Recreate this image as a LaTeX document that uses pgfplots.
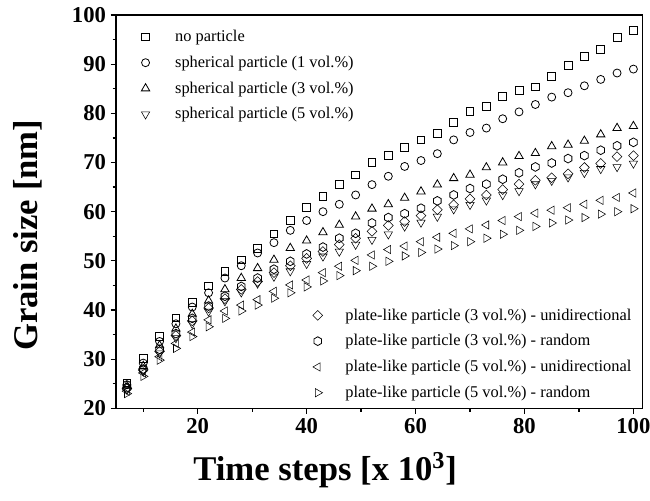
\documentclass[border=0pt]{standalone}
\usepackage{fontspec}
\setmainfont{Liberation Serif}
\usepackage{pgfplots}
\usepackage{pgfplotstable}
\pgfplotsset{compat=1.18}
\usetikzlibrary{plotmarks}

% open hexagon mark, not built in
\pgfdeclareplotmark{hexagon}{%
  \pgfpathmoveto{\pgfqpointpolar{90}{\pgfplotmarksize}}%
  \pgfpathlineto{\pgfqpointpolar{150}{\pgfplotmarksize}}%
  \pgfpathlineto{\pgfqpointpolar{210}{\pgfplotmarksize}}%
  \pgfpathlineto{\pgfqpointpolar{270}{\pgfplotmarksize}}%
  \pgfpathlineto{\pgfqpointpolar{330}{\pgfplotmarksize}}%
  \pgfpathlineto{\pgfqpointpolar{30}{\pgfplotmarksize}}%
  \pgfpathclose
  \pgfusepathqstroke}

\pgfplotstableread{
x   np   s1   s3   s5   p3u  p3r  p5u  p5r
7   25.2 24.8 24.6 23.8 24.0 24.2 23.5 23.0
10  30.2 29.2 28.6 27.5 27.8 28.0 27.2 26.5
13  34.6 33.6 32.8 31.2 31.6 32.0 30.5 29.8
16  38.4 37.2 36.2 34.3 34.8 35.2 33.2 32.2
19  41.6 40.6 39.2 37.2 37.8 38.3 35.5 34.6
22  44.9 43.5 41.9 39.7 40.4 40.8 38.0 36.6
25  47.8 46.5 44.2 41.8 42.3 42.8 39.8 38.3
28  50.2 49.0 46.5 43.6 44.2 44.8 41.0 39.8
31  52.5 51.6 48.5 45.4 45.8 46.5 42.1 41.0
34  55.5 53.7 50.2 46.8 47.6 48.3 43.8 42.4
37  58.2 56.2 52.6 47.9 49.0 49.9 45.1 43.5
40  60.9 58.2 54.1 49.4 50.5 51.4 46.1 44.7
43  63.1 60.0 55.8 50.9 51.9 52.8 47.6 45.9
46  65.5 61.5 57.3 51.9 53.3 54.6 48.9 47.0
49  67.5 63.4 59.0 53.3 54.6 55.6 50.1 48.0
52  70.0 65.5 60.6 54.3 56.0 57.7 51.2 48.9
55  71.5 67.2 61.5 55.4 57.2 58.8 52.3 49.9
58  73.0 69.2 62.8 57.0 58.0 59.6 53.0 51.0
61  74.6 70.4 64.1 57.8 59.2 60.7 53.9 51.7
64  75.9 71.8 65.5 59.0 60.4 62.2 54.8 52.4
67  78.2 74.6 66.8 60.5 61.4 63.4 55.6 53.1
70  80.4 76.1 67.5 61.4 62.6 64.7 56.5 53.9
73  81.4 77.0 69.0 62.3 63.4 65.6 57.3 54.6
76  83.5 78.9 70.0 63.4 64.5 66.6 58.2 55.4
79  84.7 80.3 71.3 64.2 65.6 67.9 59.0 56.2
82  85.4 81.8 71.9 65.6 66.4 69.1 59.7 57.0
85  87.5 83.3 73.3 66.3 66.9 69.9 60.3 57.7
88  89.8 84.2 73.6 67.0 67.7 70.8 60.8 58.3
91  91.6 85.6 74.4 67.9 69.0 71.4 61.5 58.8
94  93.0 86.9 75.7 68.7 69.8 72.5 62.3 59.5
97  95.4 88.2 77.0 69.1 71.2 73.4 62.9 60.0
100 96.9 89.0 77.4 69.8 71.4 74.1 63.8 60.6
}\grain

\pgfplotsset{
  grainaxis/.style={
    scale only axis, width=395pt, height=295pt,
    xmin=5, xmax=101.7, ymin=20, ymax=100,
    legend cell align=left,
  },
  pt/.style={only marks, mark size=#1, mark options={solid, draw=black, line width=0.6pt}},
  % mark at (0,0), invisible path sets the gap before the text
  gaplegend/.style={legend image code/.code={%
      \draw[##1] plot coordinates {(0pt,0pt)};
      \path (-4pt,0pt) (#1,0pt);}},
  legbox/.style={draw=none, fill=none, inner sep=0pt, nodes={inner sep=0pt},
      font=\fontsize{12.3}{13}\selectfont, row sep=9.3pt},
}

\begin{document}
\begin{tikzpicture}
\begin{axis}[
    grainaxis,
    axis line style={line width=1.1pt},
    tick style={line width=0.9pt, black},
    tick align=outside, tick pos=left,
    major tick length=4pt, minor tick length=2.6pt,
    xtick={20,40,60,80,100}, minor xtick={10,30,50,70,90},
    ytick={20,30,...,100}, minor ytick={25,35,...,95},
    /pgf/number format/assume math mode=true,
    ticklabel style={font=\fontsize{17}{18}\selectfont\bfseries},
    xlabel={Time steps [x 10\textsuperscript{3}]},
    ylabel={Grain size [nm]},
    every axis x label/.style={at={(axis description cs:0.397,-0.158)}, anchor=center,
      font=\fontsize{26}{28}\selectfont\bfseries},
    every axis y label/.style={at={(axis description cs:-0.167,0.44)}, anchor=center, rotate=90,
      font=\fontsize{26}{28}\selectfont\bfseries},
    gaplegend=22pt,
    legend style={legbox, at={(0.045,0.962)}, anchor=north west},
]
\addplot[pt=2.9pt, mark=square] table[x=x, y=np] {\grain};
\addlegendentry{no particle}
\addplot[pt=3pt, mark=o] table[x=x, y=s1] {\grain};
\addlegendentry{spherical particle (1 vol.\%)}
\addplot[pt=3.6pt, mark=triangle] table[x=x, y=s3] {\grain};
\addlegendentry{spherical particle (3 vol.\%)}
\addplot[pt=3.6pt, mark=triangle, mark options={rotate=180}] table[x=x, y=s5] {\grain};
\addlegendentry{spherical particle (5 vol.\%)}
\end{axis}
\begin{axis}[
    grainaxis, hide axis,
    gaplegend=20.5pt,
    legend style={legbox, at={(0.979,0.022)}, anchor=south east},
]
\addplot[pt=2.6pt, mark=square, mark options={rotate=45}] table[x=x, y=p3u] {\grain};
\addlegendentry{plate-like particle (3 vol.\%) - unidirectional}
\addplot[pt=3.3pt, mark=hexagon] table[x=x, y=p3r] {\grain};
\addlegendentry{plate-like particle (3 vol.\%) - random}
\addplot[pt=3.6pt, mark=triangle, mark options={rotate=90}] table[x=x, y=p5u] {\grain};
\addlegendentry{plate-like particle (5 vol.\%) - unidirectional}
\addplot[pt=3.6pt, mark=triangle, mark options={rotate=-90}] table[x=x, y=p5r] {\grain};
\addlegendentry{plate-like particle (5 vol.\%) - random}
\end{axis}
\pgfresetboundingbox
\path[use as bounding box] (-87pt,-69pt) rectangle (400.5pt,306.25pt);
\end{tikzpicture}
\end{document}
